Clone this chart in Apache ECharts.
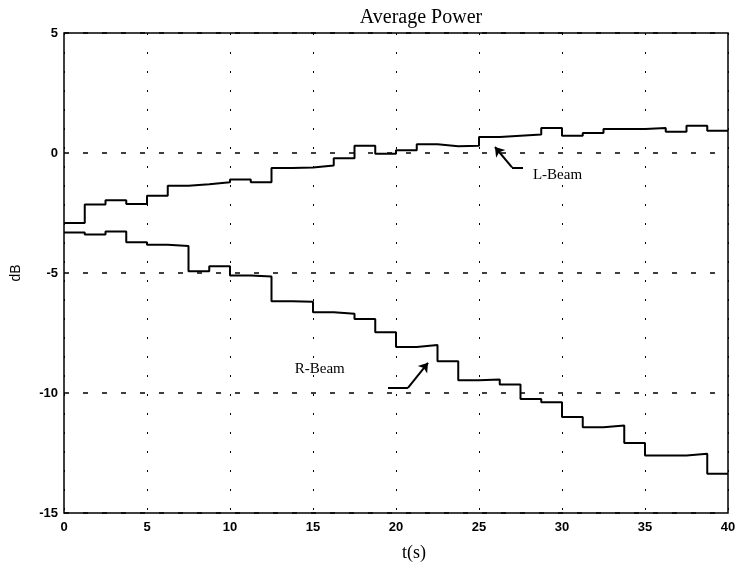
<!DOCTYPE html>
<html>
<head>
<meta charset="utf-8">
<script src="https://cdn.jsdelivr.net/npm/echarts@6/dist/echarts.min.js"></script>
<style>
  html, body { margin: 0; padding: 0; background: #fff; }
  #chart { width: 735px; height: 564px; }
</style>
</head>
<body>
<div id="chart"></div>
<script>
// Block boundaries in seconds (one level per 1.25 s block)
var blockStarts = [0, 1.25, 2.5, 3.75, 5, 6.25, 7.5, 8.75, 10, 11.25, 12.5, 13.75,
  15, 16.25, 17.5, 18.75, 20, 21.25, 22.5, 23.75, 25, 26.25, 27.5, 28.75,
  30, 31.25, 32.5, 33.75, 35, 36.25, 37.5, 38.75];
var endTime = 40;

// Average power per block, dB
var lBeam = [-2.92, -2.15, -1.97, -2.12, -1.78, -1.36, -1.3, -1.22, -1.1, -1.22, -0.63, -0.6,
  -0.52, -0.22, 0.3, -0.03, 0.11, 0.36, 0.28, 0.3, 0.67, 0.72, 0.77, 1.04,
  0.72, 0.83, 1.0, 1.0, 1.04, 0.89, 1.14, 0.93];
var rBeam = [-3.31, -3.4, -3.27, -3.72, -3.82, -3.87, -4.93, -4.72, -5.1, -5.15, -6.18, -6.2,
  -6.64, -6.7, -6.92, -7.47, -8.08, -8.0, -8.68, -9.47, -9.44, -9.65, -10.25, -10.39,
  -11.0, -11.43, -11.35, -12.08, -12.6, -12.6, -12.53, -13.36];

var xTicks = [0, 5, 10, 15, 20, 25, 30, 35, 40];
var yTicks = [-15, -10, -5, 0, 5];

// Callout positions (data units): leader polyline and label anchor
var lCallout = { path: [[27.65, -0.6], [26.99, -0.6], [25.96, 0.25]], text: 'L-Beam', at: [28.25, -0.9] };
var rCallout = { path: [[19.52, -9.79], [20.72, -9.79], [21.93, -8.74]], text: 'R-Beam', at: [13.9, -8.99] };

function stepPoints(values) {
  var pts = values.map(function (v, i) { return [blockStarts[i], v]; });
  pts.push([endTime, values[values.length - 1]]);
  return pts;
}

function calloutLines(c) {
  return [
    [{ coord: c.path[0], symbol: 'none' }, { coord: c.path[1], symbol: 'none' }],
    [{ coord: c.path[1], symbol: 'none' }, { coord: c.path[2], symbol: 'arrow' }]
  ];
}

function calloutLabel(c) {
  return {
    coord: c.at, value: c.text, symbol: 'circle', symbolSize: 0,
    label: {
      show: true, position: 'right', distance: 0, formatter: c.text,
      fontFamily: 'Liberation Serif', fontSize: 15, color: '#000'
    }
  };
}

var chart = echarts.init(document.getElementById('chart'), null, { renderer: 'canvas' });

var tickFont = { fontFamily: 'Liberation Sans', fontWeight: 'bold', fontSize: 13, color: '#000' };

chart.setOption({
  animation: false,
  backgroundColor: '#fff',
  title: {
    text: 'Average Power',
    left: 416, top: 3, textAlign: 'center',
    textStyle: { fontFamily: 'Liberation Serif', fontWeight: 'normal', fontSize: 20, color: '#000' }
  },
  grid: {
    left: 64, top: 33, right: 7, bottom: 51,
    outerBoundsMode: 'none',
    show: true, borderColor: '#000', borderWidth: 1.5, backgroundColor: 'transparent'
  },
  xAxis: {
    type: 'value', min: 0, max: 40, interval: 5,
    name: 't(s)', nameLocation: 'middle', nameGap: 31,
    nameTextStyle: { fontFamily: 'Liberation Serif', fontSize: 18, color: '#000', padding: [0, 0, 0, 36] },
    axisLine: { show: false },
    axisTick: { show: false },
    axisLabel: Object.assign({ margin: 8, customValues: xTicks }, tickFont),
    splitLine: { show: true, lineStyle: { color: '#000', width: 1, type: [2, 17] } }
  },
  yAxis: {
    type: 'value', min: -15, max: 5, interval: 5,
    name: 'dB', nameLocation: 'middle', nameGap: 41, nameRotate: 90,
    nameTextStyle: { fontFamily: 'Liberation Sans', fontSize: 14, color: '#000' },
    axisLine: { show: false },
    axisTick: { show: false },
    axisLabel: Object.assign({ margin: 6, customValues: yTicks }, tickFont),
    splitLine: { show: true, lineStyle: { color: '#000', width: 1.5, type: [5, 14] } }
  },
  series: [
    {
      name: 'L-Beam', type: 'line', step: 'end', data: stepPoints(lBeam),
      symbol: 'none', lineStyle: { color: '#000', width: 2 },
      markLine: {
        silent: true, symbolSize: 9,
        lineStyle: { color: '#000', width: 2, type: 'solid' },
        label: { show: false },
        data: calloutLines(lCallout)
      },
      markPoint: { silent: true, data: [calloutLabel(lCallout)] }
    },
    {
      name: 'R-Beam', type: 'line', step: 'end', data: stepPoints(rBeam),
      symbol: 'none', lineStyle: { color: '#000', width: 2 },
      markLine: {
        silent: true, symbolSize: 9,
        lineStyle: { color: '#000', width: 2, type: 'solid' },
        label: { show: false },
        data: calloutLines(rCallout)
      },
      markPoint: { silent: true, data: [calloutLabel(rCallout)] }
    }
  ]
});
</script>
</body>
</html>
